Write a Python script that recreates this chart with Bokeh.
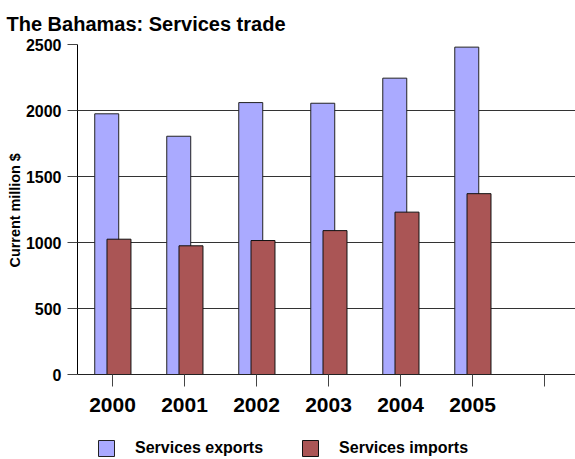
from bokeh.plotting import figure
from bokeh.models import ColumnDataSource, FixedTicker, Range1d, Legend, LegendItem, Title
from bokeh.transform import dodge
from bokeh.embed import file_html
from bokeh.resources import INLINE

# ---- data ----
years = ["2000", "2001", "2002", "2003", "2004", "2005"]
exports = [1975, 1805, 2060, 2055, 2245, 2480]
imports = [1025, 975, 1015, 1090, 1230, 1370]
series_names = ["Services exports", "Services imports"]
y_ticks = [0, 500, 1000, 1500, 2000, 2500]
y_label = "Current million $"

FONT = "Liberation Sans"

idx = list(range(len(years)))
src = ColumnDataSource(dict(x=idx, exports=exports, imports=imports))

# frame spans y=44..459 px; value 0 sits 85 px above the bottom edge (room for axis + legend)
Y_MAX = 2500
Y_MIN = -85 * Y_MAX / 330

p = figure(width=575, height=459, output_backend="svg", toolbar_location=None,
           x_range=Range1d(-0.486, 6.43), y_range=Range1d(Y_MIN, Y_MAX),
           min_border_left=77, min_border_right=0, min_border_top=44, min_border_bottom=0)

p.outline_line_color = None
p.background_fill_color = "white"

p.title.text = "The Bahamas: Services trade"
p.title.text_font = FONT
p.title.text_font_size = "20px"
p.title.text_font_style = "bold"
p.title.text_color = "black"
p.title.text_line_height = 1.0
p.title.offset = -71
p.title.standoff = 20

r1 = p.vbar(x=dodge("x", -0.08), top="exports", width=0.333, bottom=0, source=src,
            fill_color="#aaaaff", line_color="#222222", line_width=1)
r2 = p.vbar(x=dodge("x", 0.09), top="imports", width=0.333, bottom=0, source=src,
            fill_color="#aa5555", line_color="#111111", line_width=1)

# axes
p.xaxis.fixed_location = 0
p.xaxis.ticker = FixedTicker(ticks=idx + [len(years)])
p.xaxis.major_label_overrides = {i: y for i, y in enumerate(years)} | {len(years): ""}
p.xaxis.major_label_text_font = FONT
p.xaxis.major_label_text_font_size = "21px"
p.xaxis.major_label_text_font_style = "bold"
p.xaxis.major_label_text_color = "black"
p.xaxis.major_tick_out = 12
p.xaxis.major_tick_in = 0
p.xaxis.minor_tick_line_color = None
p.xaxis.major_tick_line_color = "#444444"
p.xaxis.axis_line_color = "#222222"
p.xaxis.major_label_standoff = 11

p.yaxis.bounds = (0, Y_MAX)
p.yaxis.ticker = FixedTicker(ticks=y_ticks)
p.yaxis.major_label_text_font = FONT
p.yaxis.major_label_text_font_size = "16px"
p.yaxis.major_label_text_font_style = "bold"
p.yaxis.major_label_text_color = "black"
p.yaxis.major_tick_out = 10
p.yaxis.major_tick_in = 0
p.yaxis.minor_tick_line_color = None
p.yaxis.major_tick_line_color = "#444444"
p.yaxis.axis_line_color = "black"
p.yaxis.major_label_standoff = 6

# y axis label as a side title so it can be centred on the 0..2500 span
ylab = Title(text=y_label, align="left", offset=192, standoff=0,
             text_font=FONT, text_font_size="14.4px", text_font_style="bold",
             text_color="black")
p.add_layout(ylab, "left")

p.xgrid.grid_line_color = None
p.ygrid.ticker = FixedTicker(ticks=y_ticks)
p.ygrid.grid_line_color = "#333333"
p.ygrid.grid_line_width = 1

legend = Legend(items=[LegendItem(label=series_names[0], renderers=[r1]),
                       LegendItem(label=series_names[1], renderers=[r2])],
                orientation="horizontal", location=(19, 1),
                glyph_width=20, glyph_height=20, label_height=20,
                label_standoff=19, spacing=37, padding=0, margin=0,
                border_line_color=None, background_fill_alpha=0,
                label_text_font=FONT, label_text_font_size="16px",
                label_text_font_style="bold", label_text_color="black")
p.add_layout(legend, "center")

open("out.html", "w").write(file_html(p, INLINE))
